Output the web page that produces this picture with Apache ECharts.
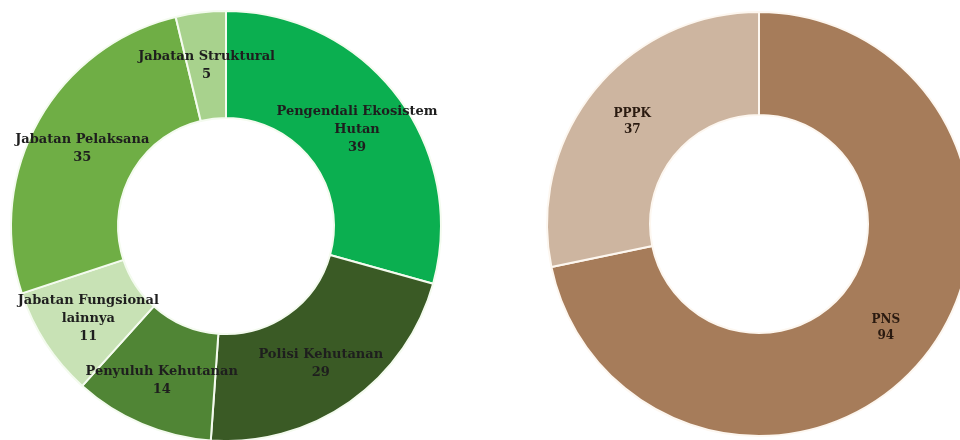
<!DOCTYPE html>
<html>
<head>
<meta charset="utf-8">
<script src="https://cdn.jsdelivr.net/npm/echarts@6/dist/echarts.min.js"></script>
<style>html,body{margin:0;padding:0;background:#fff}#c{width:960px;height:440px}</style>
</head>
<body>
<div id="c"></div>
<script>
const jabatanNames = ["Pengendali Ekosistem\nHutan", "Polisi Kehutanan", "Penyuluh Kehutanan", "Jabatan Fungsional\nlainnya", "Jabatan Pelaksana", "Jabatan Struktural"];
const jabatanValues = [39, 29, 14, 11, 35, 5];
const jabatanColors = ["#0BAF50", "#3A5A25", "#508535", "#C8E2B5", "#6FAE45", "#A8D28D"];
const statusNames = ["PNS", "PPPK"];
const statusValues = [94, 37];
const statusColors = ["#A67C5A", "#CDB5A0"];

const labelStyle = {
  show: true,
  position: 'inside',
  formatter: '{b}\n{c}',
  fontFamily: 'DejaVu Serif',
  fontWeight: 'bold',
  fontSize: 13,
  lineHeight: 18,
  color: '#1e1e1e',
  offset: [0, 3],
  textBorderWidth: 0
};

const chart = echarts.init(document.getElementById('c'));
chart.setOption({
  animation: false,
  series: [
    {
      type: 'pie',
      center: [226, 226],
      radius: [108, 215],
      startAngle: 90,
      clockwise: true,
      label: labelStyle,
      labelLine: {show: false},
      itemStyle: {borderColor: '#f4fbef', borderWidth: 2},
      emphasis: {disabled: true},
      data: jabatanNames.map((n, i) => ({name: n, value: jabatanValues[i], itemStyle: {color: jabatanColors[i]}}))
    },
    {
      type: 'pie',
      center: [759, 224],
      radius: [109, 212],
      startAngle: 90,
      clockwise: true,
      label: Object.assign({}, labelStyle, {color: '#2a1a10', fontSize: 12, lineHeight: 16, offset: [0, 1]}),
      labelLine: {show: false},
      itemStyle: {borderColor: '#fdf7f0', borderWidth: 2},
      emphasis: {disabled: true},
      data: statusNames.map((n, i) => ({name: n, value: statusValues[i], itemStyle: {color: statusColors[i]}}))
    }
  ]
});
</script>
</body>
</html>
